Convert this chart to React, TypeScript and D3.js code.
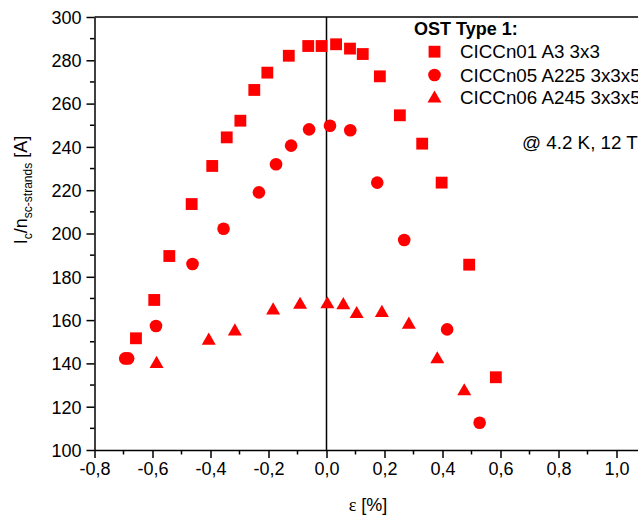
import { useEffect, useRef } from 'react'
import * as d3 from 'd3'

// strain [%] and Ic/n [A]
const a3Strain = [-0.657, -0.594, -0.542, -0.465, -0.394, -0.344, -0.297, -0.249, -0.204, -0.130, -0.063, -0.017, 0.033, 0.081, 0.125, 0.184, 0.253, 0.330, 0.397, 0.492, 0.584]
const a3Ic = [151.6, 169.3, 189.6, 213.6, 231.2, 244.4, 252.1, 266.3, 274.3, 282.1, 286.6, 286.6, 287.4, 285.4, 282.9, 272.6, 254.6, 241.5, 223.5, 185.6, 133.6]

const a225Strain = [-0.694, -0.684, -0.588, -0.462, -0.355, -0.233, -0.174, -0.122, -0.060, 0.012, 0.082, 0.175, 0.268, 0.416, 0.528]
const a225Ic = [142.3, 142.3, 157.3, 185.9, 202.2, 219.0, 232.0, 240.6, 248.1, 249.8, 247.7, 223.5, 197.0, 155.7, 112.6]

const a245Strain = [-0.586, -0.406, -0.316, -0.184, -0.091, 0.003, 0.058, 0.104, 0.191, 0.284, 0.382, 0.475]
const a245Ic = [139.8, 150.5, 154.8, 164.5, 167.1, 167.3, 166.9, 162.8, 163.3, 157.9, 141.9, 127.1]

const legendTitle = 'OST Type 1:'
const seriesNames = ['CICCn01 A3 3x3', 'CICCn05 A225 3x3x5', 'CICCn06 A245 3x3x5']
const conditionNote = '@ 4.2 K, 12 T'

const xTicks = [-0.8, -0.6, -0.4, -0.2, 0, 0.2, 0.4, 0.6, 0.8, 1.0]
const yTicks = [100, 120, 140, 160, 180, 200, 220, 240, 260, 280, 300]

const W = 638
const H = 516
const red = '#ff0000'
const font = '"Liberation Sans", Arial, sans-serif'

export default function App() {
  const ref = useRef<SVGSVGElement>(null)

  useEffect(() => {
    const svg = d3.select(ref.current)
    svg.selectAll('*').remove()

    const x = d3.scaleLinear().domain([-0.8, 1.2]).range([94.5, 674.5])
    const y = d3.scaleLinear().domain([100, 300]).range([450, 17])

    const g = svg.append('g')

    // frame: top and zero line
    g.append('line').attr('x1', x(-0.8)).attr('x2', x(1.2)).attr('y1', y(300)).attr('y2', y(300))
      .attr('stroke', '#000').attr('stroke-width', 1.5)
    g.append('line').attr('x1', x(0)).attr('x2', x(0)).attr('y1', y(300)).attr('y2', y(100))
      .attr('stroke', '#000').attr('stroke-width', 1.5)

    const xAxis = d3.axisBottom(x).tickValues(xTicks).tickSizeOuter(0).tickSizeInner(8).tickPadding(4)
      .tickFormat(d => d3.format('.1f')(d as number).replace('.', ',').replace('\u2212', '-'))
    const gx = g.append('g').attr('transform', `translate(0,${y(100)})`).call(xAxis)
    gx.selectAll('text').attr('font-size', 18).attr('font-family', font).attr('fill', '#000')

    const yAxis = d3.axisLeft(y).tickValues(yTicks).tickSizeOuter(0).tickSizeInner(8).tickPadding(5)
    const gy = g.append('g').attr('transform', `translate(${x(-0.8)},0)`).call(yAxis)
    gy.selectAll('text').attr('font-size', 18).attr('font-family', font).attr('fill', '#000').attr('dy', '0.35em')

    // minor ticks
    const xMinor = d3.range(-0.7, 1.2, 0.2)
    g.append('g').selectAll('line').data(xMinor).join('line')
      .attr('x1', d => x(d)).attr('x2', d => x(d)).attr('y1', y(100)).attr('y2', y(100) + 4.5)
      .attr('stroke', '#000').attr('stroke-width', 1.5)
    const yMinor = d3.range(110, 300, 20)
    g.append('g').selectAll('line').data(yMinor).join('line')
      .attr('x1', x(-0.8) - 4.5).attr('x2', x(-0.8)).attr('y1', d => y(d)).attr('y2', d => y(d))
      .attr('stroke', '#000').attr('stroke-width', 1.5)

    for (const ax of [gx, gy]) {
      ax.selectAll('path,line').attr('stroke', '#000').attr('stroke-width', 1.5)
    }

    const series = [
      { xs: a3Strain, ys: a3Ic, sym: d3.symbol().type(d3.symbolSquare).size(140) },
      { xs: a225Strain, ys: a225Ic, sym: d3.symbol().type(d3.symbolCircle).size(125) },
      { xs: a245Strain, ys: a245Ic, sym: d3.symbol().type(d3.symbolTriangle).size(85) },
    ]

    series.forEach(s => {
      g.append('g').selectAll('path').data(s.xs.map((v, i) => [v, s.ys[i]])).join('path')
        .attr('d', s.sym() as string)
        .attr('transform', d => `translate(${x(d[0])},${y(d[1])})`)
        .attr('fill', red)
    })

    // legend
    const lg = g.append('g').attr('font-family', font).attr('font-size', 18.8)
    lg.append('text').attr('x', 414).attr('y', 35).attr('font-weight', 'bold').attr('font-size', 18).text(legendTitle)
    const rows = [51.7, 75, 97]
    series.forEach((s, i) => {
      lg.append('path').attr('d', s.sym() as string)
        .attr('transform', `translate(434.5,${rows[i] + (i === 2 ? 1.5 : 0)})`).attr('fill', red)
      lg.append('text').attr('x', 460).attr('y', rows[i]).attr('dy', '0.35em').text(seriesNames[i])
    })
    lg.append('text').attr('x', 522).attr('y', 142).attr('dy', '0.35em').text(conditionNote)

    // axis titles
    g.append('text').attr('x', 368).attr('y', 505).attr('dy', '0.35em').attr('text-anchor', 'middle')
      .attr('font-size', 18).attr('font-family', font)
      .call(t => {
        t.append('tspan').attr('font-family', '"Liberation Serif", "Times New Roman", serif').text('ε')
        t.append('tspan').text(' [%]')
      })

    const yl = g.append('text').attr('transform', 'translate(27,190) rotate(-90)')
      .attr('text-anchor', 'middle').attr('font-size', 18).attr('font-family', font)
    yl.append('tspan').text('I')
    yl.append('tspan').attr('font-size', 12).attr('dy', 5).text('c')
    yl.append('tspan').attr('dy', -5).text('/n')
    yl.append('tspan').attr('font-size', 12).attr('dy', 5).text('sc-strands')
    yl.append('tspan').attr('dy', -5).text(' [A]')
  }, [])

  return (
    <svg ref={ref} width={W} height={H} style={{ position: 'absolute', left: 0, top: 0, background: '#fff' }} />
  )
}
